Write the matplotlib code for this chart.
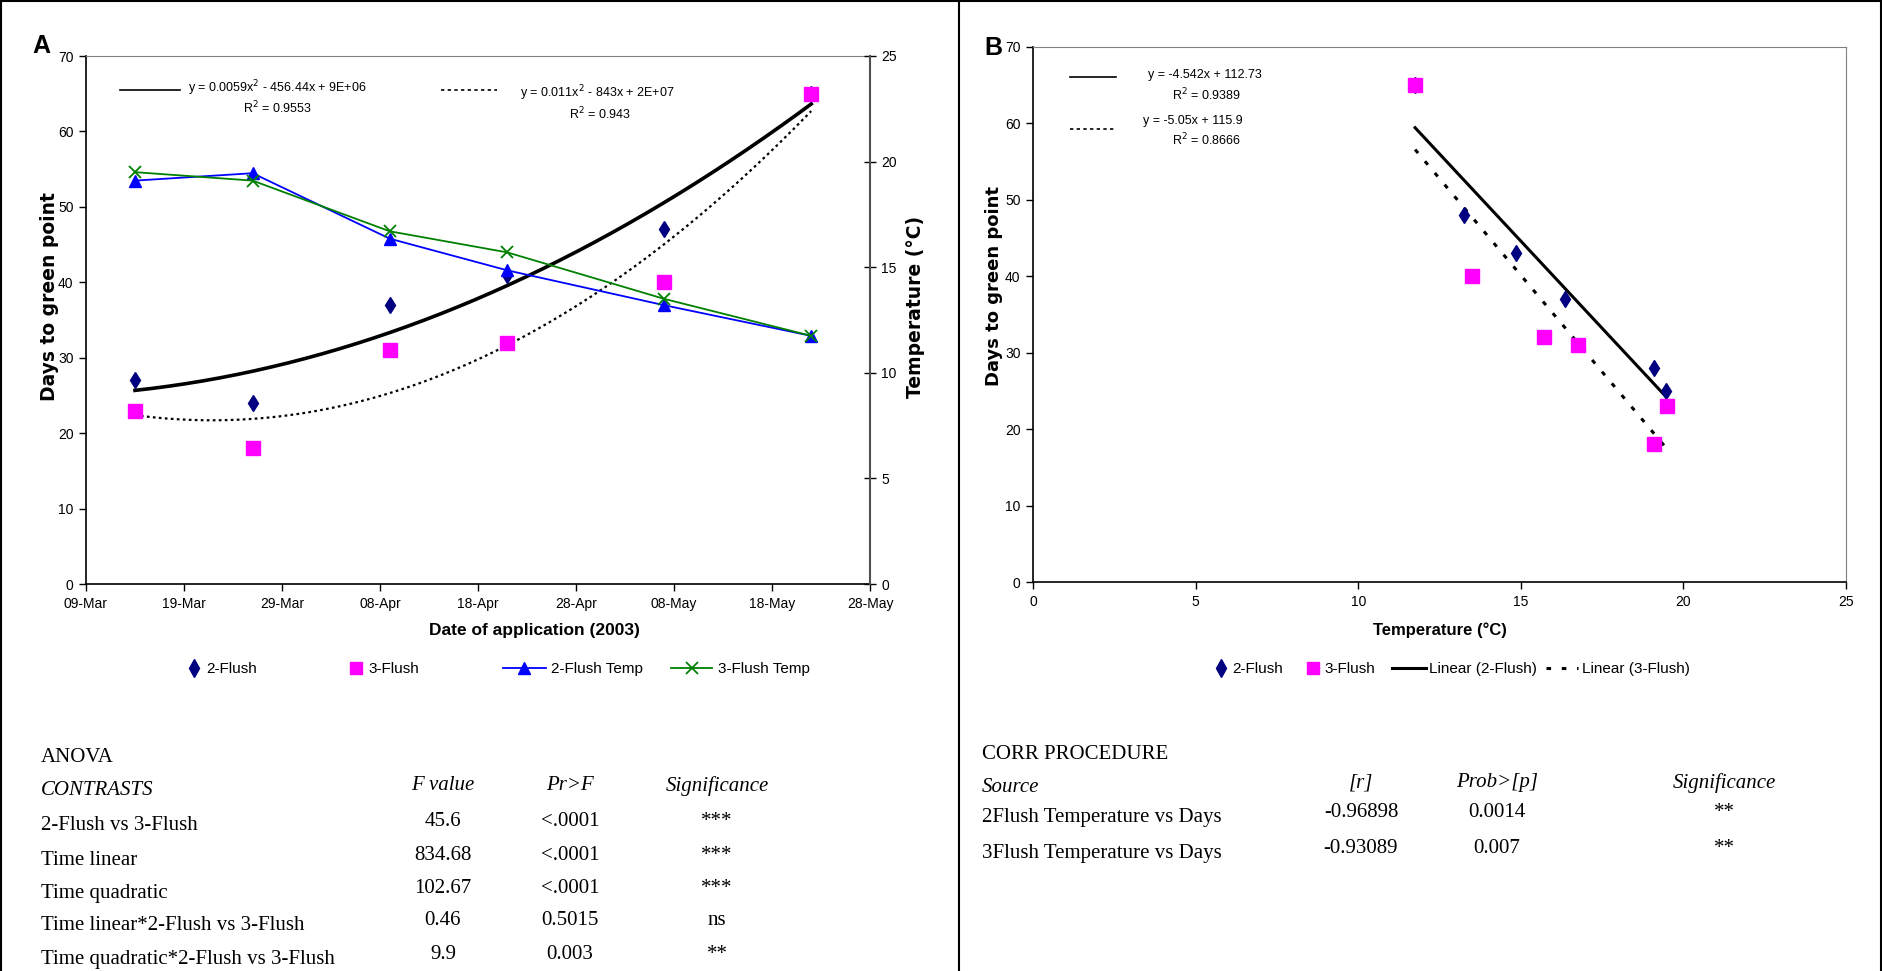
import datetime as dt
import numpy as np
import matplotlib
matplotlib.use("Agg")
import matplotlib.pyplot as plt
import matplotlib.dates as mdates
from matplotlib.lines import Line2D
from matplotlib import font_manager

W, H = 1883, 971

# --- data ---
dates = [dt.date(2003, 3, 14), dt.date(2003, 3, 26), dt.date(2003, 4, 9),
         dt.date(2003, 4, 21), dt.date(2003, 5, 7), dt.date(2003, 5, 22)]
days_2flush = [27, 24, 37, 41, 47, 65]
days_3flush = [23, 18, 31, 32, 40, 65]
temp_2flush = [19.1, 19.45, 16.35, 14.85, 13.2, 11.75]
temp_3flush = [19.5, 19.1, 16.7, 15.7, 13.5, 11.75]

# panel B (days vs temperature)
b_temp_2flush = [19.1, 19.45, 16.35, 14.85, 13.25, 11.75]
b_days_2flush = [28, 25, 37, 43, 48, 65]
b_temp_3flush = [19.5, 19.1, 16.75, 15.7, 13.5, 11.75]
b_days_3flush = [23, 18, 31, 32, 40, 65]

anova_rows = ["2-Flush vs 3-Flush", "Time linear", "Time quadratic",
              "Time linear*2-Flush vs 3-Flush", "Time quadratic*2-Flush vs 3-Flush"]
anova_f = ["45.6", "834.68", "102.67", "0.46", "9.9"]
anova_p = ["<.0001", "<.0001", "<.0001", "0.5015", "0.003"]
anova_sig = ["***", "***", "***", "ns", "**"]

corr_rows = ["2Flush Temperature vs Days", "3Flush Temperature vs Days"]
corr_r = ["-0.96898", "-0.93089"]
corr_p = ["0.0014", "0.007"]
corr_sig = ["**", "**"]

names = {f.name for f in font_manager.fontManager.ttflist}
NARROW = "Liberation Sans Narrow" if "Liberation Sans Narrow" in names else "Liberation Sans"
SANS = "Liberation Sans"
SERIF = "Liberation Serif"
plt.rcParams["font.family"] = SANS

NAVY = "#000080"
PINK = "#FF00FF"


def fx(x):
    return x / W


def fy(y):
    return 1 - y / H


fig = plt.figure(figsize=(W / 100, H / 100), dpi=100)
lab_style = dict(fontfamily="DejaVu Sans", fontweight="bold", fontsize=13.5,
                 rotation=90, ha="center", va="center")

# ---------------- panel A ----------------
axA = fig.add_axes([fx(86), fy(584), fx(870) - fx(86), fy(56) - fy(584)])
xd = mdates.date2num(dates)
axA.plot(dates, days_2flush, linestyle="none", marker="d", ms=8.5, color=NAVY, zorder=3)
axA.plot(dates, days_3flush, linestyle="none", marker="s", ms=9.5, color=PINK, zorder=4)

xs = np.linspace(xd[0], xd[-1], 200)
c2 = np.polyfit(xd, days_2flush, 2)
c3 = np.polyfit(xd, days_3flush, 2)
axA.plot(xs, np.polyval(c2, xs), color="black", lw=2.6, zorder=2)
axA.plot(xs, np.polyval(c3, xs), color="black", lw=1.6, linestyle=(0, (1.2, 1.5)), zorder=2)

axA.set_xlim(mdates.date2num(dt.date(2003, 3, 9)), mdates.date2num(dt.date(2003, 5, 28)))
ticks = [dt.date(2003, 3, 9) + dt.timedelta(days=10 * i) for i in range(9)]
axA.set_xticks(mdates.date2num(ticks))
axA.xaxis.set_major_formatter(mdates.DateFormatter("%d-%b"))
axA.set_ylim(0, 70)
axA.set_yticks(range(0, 71, 10))
axA.tick_params(labelsize=10, length=5, width=1, direction="out", pad=4)
for lab in axA.get_xticklabels() + axA.get_yticklabels():
    lab.set_fontfamily(NARROW)
axA.spines["top"].set_color("#808080")
axA.spines["right"].set_visible(False)
axA.spines["left"].set_linewidth(1.2)
axA.spines["bottom"].set_linewidth(1.2)
fig.text(fx(50), fy(297), "Days to green point", **lab_style)
fig.text(fx(534), fy(630), "Date of application (2003)", fontfamily=NARROW, fontweight="bold",
         fontsize=12.5, ha="center", va="center")

ax2 = axA.twinx()
ax2.plot(dates, temp_2flush, color="#0000FF", lw=1.3, marker="^", ms=9)
ax2.plot(dates, temp_3flush, color="#008000", lw=1.3, marker="x", ms=9, mew=1.3)
ax2.set_ylim(0, 25)
ax2.set_yticks(range(0, 26, 5))
ax2.tick_params(labelsize=10, length=8, width=1, direction="inout", pad=4)
for lab in ax2.get_yticklabels():
    lab.set_fontfamily(NARROW)
for s in ["top", "left", "bottom"]:
    ax2.spines[s].set_visible(False)
ax2.spines["right"].set_color("#505050")
ax2.spines["right"].set_linewidth(1.5)
fig.text(fx(916), fy(307), "Temperature (°C)", **lab_style)

# trendline equations A
eq = dict(fontfamily=NARROW, fontsize=9, va="center", ha="center")
fig.add_artist(Line2D([fx(120), fx(180)], [fy(90), fy(90)], color="black", lw=1.2))
fig.add_artist(Line2D([fx(441), fx(497)], [fy(90), fy(90)], color="black", lw=1.2, linestyle=(0, (2, 2))))
fig.text(fx(277), fy(88), "y = 0.0059x$^2$ - 456.44x + 9E+06", **eq)
fig.text(fx(277), fy(108), "R$^2$ = 0.9553", **eq)
fig.text(fx(597), fy(93), "y = 0.011x$^2$ - 843x + 2E+07", **eq)
fig.text(fx(600), fy(114), "R$^2$ = 0.943", **eq)
fig.text(fx(32), fy(46), "A", fontsize=18, fontweight="bold", va="center")

# legend A, one entry each so the spacing matches
legA = [
    (Line2D([], [], linestyle="none", marker="d", ms=9, color=NAVY), "2-Flush", 186, 1.0),
    (Line2D([], [], linestyle="none", marker="s", ms=8, color=PINK), "3-Flush", 348, 1.0),
    (Line2D([], [], color="#0000FF", lw=1.3, marker="^", ms=8), "2-Flush Temp", 503, 2.8),
    (Line2D([], [], color="#008000", lw=1.3, marker="x", ms=8, mew=1.3), "3-Flush Temp", 671, 2.7),
]
for h, lab, x, hl in legA:
    fig.legend(handles=[h], labels=[lab], loc="center left", bbox_to_anchor=(fx(x), fy(669)),
               frameon=False, handlelength=hl, handletextpad=0.35, borderpad=0, borderaxespad=0,
               prop={"family": NARROW, "size": 11})

# ---------------- panel B ----------------
axB = fig.add_axes([fx(1033), fy(582), fx(1846) - fx(1033), fy(47) - fy(582)])
tb2 = np.array(b_temp_2flush)
tb3 = np.array(b_temp_3flush)
l2 = np.polyfit(tb2, b_days_2flush, 1)
l3 = np.polyfit(tb3, b_days_3flush, 1)
x2 = np.array([tb2.min(), tb2.max()])
x3 = np.array([tb3.min(), tb3.max()])
axB.plot(x2, np.polyval(l2, x2), color="black", lw=2.2, zorder=2)
axB.plot(x3, np.polyval(l3, x3), color="black", lw=2.2, linestyle=(0, (1.5, 3.5)), zorder=2)
axB.plot(b_temp_2flush, b_days_2flush, linestyle="none", marker="d", ms=8.5, color=NAVY, zorder=3)
axB.plot(b_temp_3flush, b_days_3flush, linestyle="none", marker="s", ms=9.5, color=PINK, zorder=4)
axB.set_xlim(0, 25)
axB.set_ylim(0, 70)
axB.set_xticks(range(0, 26, 5))
axB.set_yticks(range(0, 71, 10))
axB.tick_params(labelsize=10, length=5, width=1, direction="out", pad=4)
for lab in axB.get_xticklabels() + axB.get_yticklabels():
    lab.set_fontfamily(NARROW)
axB.spines["top"].set_color("#808080")
axB.spines["right"].set_color("#808080")
axB.spines["left"].set_linewidth(1.2)
axB.spines["bottom"].set_linewidth(1.2)
fig.text(fx(994), fy(286), "Days to green point", **dict(lab_style, fontsize=13))
fig.text(fx(1440), fy(630), "Temperature (°C)", fontfamily=NARROW, fontweight="bold",
         fontsize=12, ha="center", va="center")

fig.add_artist(Line2D([fx(1070), fx(1116)], [fy(77), fy(77)], color="black", lw=1.2))
fig.add_artist(Line2D([fx(1070), fx(1116)], [fy(129), fy(129)], color="black", lw=1.2, linestyle=(0, (2, 2))))
fig.text(fx(1205), fy(75), "y = -4.542x + 112.73", **eq)
fig.text(fx(1206), fy(95), "R$^2$ = 0.9389", **eq)
fig.text(fx(1193), fy(121), "y = -5.05x + 115.9", **eq)
fig.text(fx(1206), fy(140), "R$^2$ = 0.8666", **eq)
fig.text(fx(984), fy(48), "B", fontsize=18, fontweight="bold", va="center")

legB = [
    (Line2D([], [], linestyle="none", marker="d", ms=9, color=NAVY), "2-Flush", 1213, 1.0),
    (Line2D([], [], linestyle="none", marker="s", ms=8, color=PINK), "3-Flush", 1305, 1.0),
    (Line2D([], [], color="black", lw=2.2), "Linear (2-Flush)", 1392, 2.2),
    (Line2D([], [], color="black", lw=2.2, linestyle=(0, (1.5, 3.5))), "Linear (3-Flush)", 1546, 2.1),
]
for h, lab, x, hl in legB:
    fig.legend(handles=[h], labels=[lab], loc="center left", bbox_to_anchor=(fx(x), fy(669)),
               frameon=False, handlelength=hl, handletextpad=0.25, borderpad=0, borderaxespad=0,
               prop={"family": NARROW, "size": 11})

# ---------------- tables ----------------
tf = dict(fontfamily=SERIF, fontsize=15, va="center")
fig.text(fx(41), fy(757), "ANOVA", **tf)
fig.text(fx(41), fy(790), "CONTRASTS", style="italic", **tf)
fig.text(fx(443), fy(786), "F value", style="italic", ha="center", **tf)
fig.text(fx(570), fy(786), "Pr>F", style="italic", ha="center", **tf)
fig.text(fx(717), fy(786), "Significance", style="italic", ha="center", **tf)
row_y = [826, 860, 893, 925, 959]
for i, y in enumerate(row_y):
    fig.text(fx(41), fy(y), anova_rows[i], **tf)
    fig.text(fx(443), fy(y - 5), anova_f[i], ha="center", **tf)
    fig.text(fx(570), fy(y - 5), anova_p[i], ha="center", **tf)
    fig.text(fx(717), fy(y - 5), anova_sig[i], ha="center", **tf)

fig.text(fx(982), fy(754), "CORR PROCEDURE", **tf)
fig.text(fx(982), fy(787), "Source", style="italic", **tf)
fig.text(fx(1361), fy(783), "[r]", style="italic", ha="center", **tf)
fig.text(fx(1497), fy(783), "Prob>[p]", style="italic", ha="center", **tf)
fig.text(fx(1724), fy(783), "Significance", style="italic", ha="center", **tf)
corr_y = [817, 853]
for i, y in enumerate(corr_y):
    fig.text(fx(982), fy(y), corr_rows[i], **tf)
    fig.text(fx(1361), fy(y - 5), corr_r[i], ha="center", **tf)
    fig.text(fx(1497), fy(y - 5), corr_p[i], ha="center", **tf)
    fig.text(fx(1724), fy(y - 5), corr_sig[i], ha="center", **tf)

# frame lines round the two panels
for x in [1.5, 959, 1881.5]:
    fig.add_artist(Line2D([fx(x), fx(x)], [0, 1], color="black", lw=1.5))
fig.add_artist(Line2D([0, 1], [fy(1), fy(1)], color="black", lw=1.5))

fig.savefig("out.png", dpi=100)
